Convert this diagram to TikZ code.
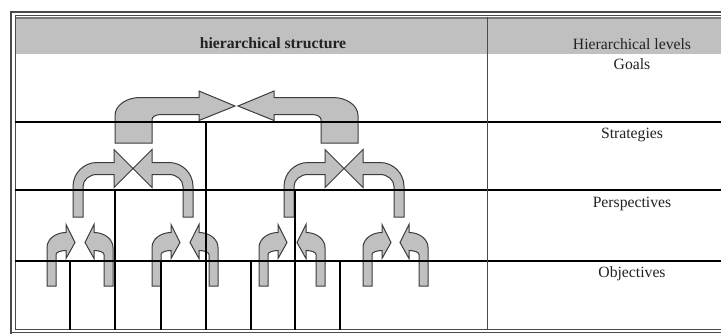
\documentclass[tikz,border=0pt]{standalone}
\usepackage{fontspec}
\setmainfont{Liberation Serif}
\definecolor{hdr}{HTML}{C0C0C0}
\definecolor{hdrdark}{HTML}{7A7A7A}
\definecolor{arrfill}{HTML}{C0C0C0}
\definecolor{arrline}{HTML}{3C3C3C}
\definecolor{brd}{HTML}{4A4A4A}
\definecolor{txt}{HTML}{222222}
\tikzset{
  cellline/.style={line width=1.6pt, black},
  treeline/.style={line width=1.4pt, black},
  divline/.style={line width=1pt, brd},
  arrowshape/.style={fill=arrfill, draw=arrline, line width=1pt, line join=miter},
  lbl/.style={anchor=base, inner sep=0pt, text=txt, font=\fontsize{15.7}{18}\selectfont},
  hlbl/.style={lbl, font=\fontsize{15.7}{18}\selectfont\bfseries},
  pics/bigarrow/.style={code={
    \path[arrowshape] (-120,37) -- (-120,9.5)
      .. controls (-120,-0.44) and (-108.8,-8.5) .. (-95,-8.5)
      -- (-36,-8.5) -- (-36,-15) -- (0,0) -- (-36,14.5) -- (-36,8.5)
      -- (-74,8.5) .. controls (-78.97,8.5) and (-83,10.74) .. (-83,13.5)
      -- (-83,37) -- cycle;
  }},
  pics/medarrow/.style={code={
    \path[arrowshape] (-60,48.5) -- (-60,18)
      .. controls (-60,4.75) and (-49.25,-6) .. (-36,-6)
      -- (-19,-6) -- (-19,-19) -- (0,0) -- (-19,19) -- (-19,6)
      -- (-36,6) .. controls (-43.73,6) and (-50,11.38) .. (-50,18)
      -- (-50,48.5) -- cycle;
  }},
  pics/smallarrow/.style={code={
    \path[arrowshape] (-28,43.5) -- (-28,5)
      .. controls (-28,-3.28) and (-19.49,-10) .. (-9,-10)
      -- (-9,-18) -- (0,0) -- (-9,16) -- (-9,8)
      .. controls (-14.52,8) and (-19,9.8) .. (-19,12)
      -- (-19,43.5) -- cycle;
  }}
}
\begin{document}
\begin{tikzpicture}[x=1pt,y=-1pt]
\useasboundingbox (0,0) rectangle (721,333);
\clip (0,0) rectangle (721,333);
\fill[white] (0,0) rectangle (721,333);
% header band
\fill[hdr] (16,16.5) rectangle (722,53.5);
\draw[hdrdark, line width=2pt] (16,18) -- (722,18);
% borders
\draw[brd, line width=1.3pt] (11,334) -- (11,12) -- (722,12);
\draw[brd, line width=1pt] (15,329.8) -- (15,15.5) -- (722,15.5);
\draw[brd, line width=1pt] (15,329.8) -- (722,329.8);
\draw[brd, line width=1.2pt] (11,332.4) -- (722,332.4);
% arrows: goals level
\pic at (235,106) {bigarrow};
\pic[xscale=-1] at (238,106) {bigarrow};
% arrows: strategies level
\pic at (133,168.5) {medarrow};
\pic[xscale=-1] at (133,168.5) {medarrow};
\pic at (344,168.5) {medarrow};
\pic[xscale=-1] at (344,168.5) {medarrow};
% arrows: perspectives level
\pic at (75,242.5) {smallarrow};
\pic[xscale=-1] at (85,242.5) {smallarrow};
\pic at (180,242.5) {smallarrow};
\pic[xscale=-1] at (190,242.5) {smallarrow};
\pic at (287,242.5) {smallarrow};
\pic[xscale=-1] at (297,242.5) {smallarrow};
\pic at (391,242.5) {smallarrow};
\pic[xscale=-1] at (400,242.5) {smallarrow};
% row lines
\draw[cellline] (15,122) -- (722,122);
\draw[cellline] (15,190) -- (722,190);
\draw[cellline] (15,261) -- (722,261);
% column divider
\draw[divline] (487,16.5) -- (487,329.8);
% tree lines
\draw[treeline] (206,122) -- (206,329.8);
\draw[treeline] (115,190) -- (115,329.8);
\draw[treeline] (295,190) -- (295,329.8);
\draw[treeline] (70,261) -- (70,329.8);
\draw[treeline] (161,261) -- (161,329.8);
\draw[treeline] (251,261) -- (251,329.8);
\draw[treeline] (340,261) -- (340,329.8);
% texts
\node[hlbl] (hs) at (273,48.3) {hierarchical structure};
\node[lbl] (hl) at (632,49.5) {Hierarchical levels};
\node[lbl] (goals) at (632,69) {Goals};
\node[lbl] (strat) at (632,138) {Strategies};
\node[lbl] (persp) at (632,207) {Perspectives};
\node[lbl] (obj) at (632,277) {Objectives};
\end{tikzpicture}
\end{document}
